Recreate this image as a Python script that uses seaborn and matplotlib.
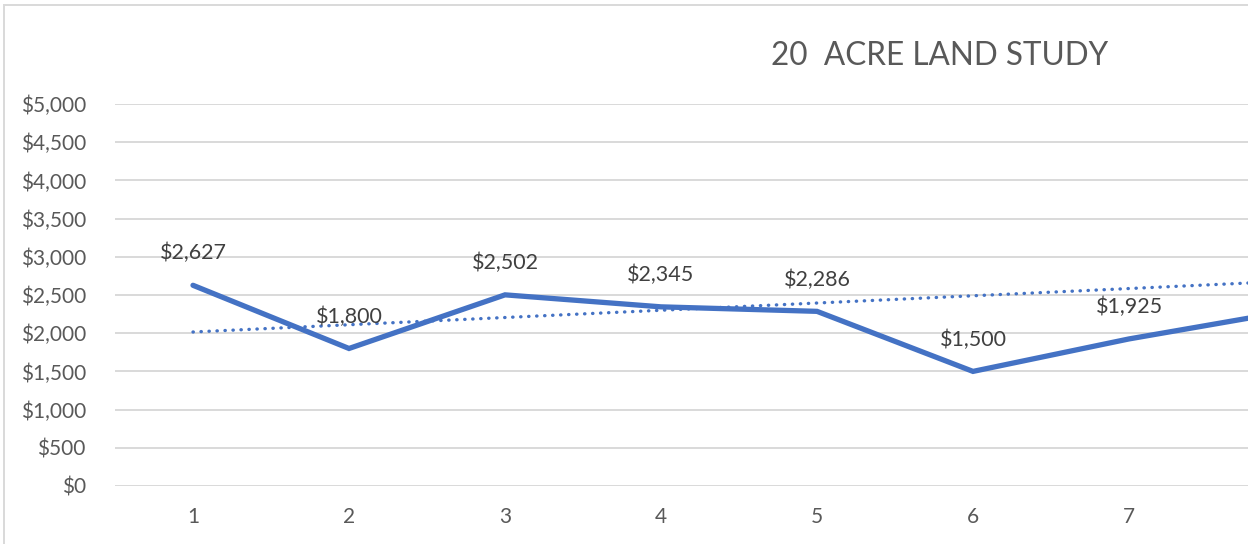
import seaborn as sns
import matplotlib.pyplot as plt
import pandas as pd
import numpy as np
from matplotlib.patches import Rectangle
from matplotlib.ticker import FuncFormatter

# values (8th point is cut off at the right edge)
periods = [1, 2, 3, 4, 5, 6, 7, 8]
prices = [2627, 1800, 2502, 2345, 2286, 1500, 1925, 2280]
# linear trendline as shown (fitted on the full series, partly hidden)
trend_intercept = 1921
trend_slope = 94.8
y_ticks = [0, 500, 1000, 1500, 2000, 2500, 3000, 3500, 4000, 4500, 5000]

sns.set_style("white")
plt.rcParams['font.family'] = ['Lato', 'DejaVu Sans']

df = pd.DataFrame({"period": periods, "price": prices})
trend_x = np.array([periods[0], periods[-1]])
trend = pd.DataFrame({"period": trend_x, "price": trend_intercept + trend_slope * trend_x})

fig = plt.figure(figsize=(12.48, 5.44), dpi=100)
ax = fig.add_axes([115 / 1248, 58 / 544, 1 - 115 / 1248, 382 / 544])

blue = "#4472C4"
grey_txt = "#595959"

sns.lineplot(data=trend, x="period", y="price", ax=ax, color=blue, lw=2.4,
             linestyle=(0, (0.1, 2.3)))
ax.lines[-1].set_dash_capstyle("round")
sns.lineplot(data=df, x="period", y="price", ax=ax, color=blue, lw=3.8,
             solid_joinstyle="miter")

for x, y in zip(periods, prices):
    ax.annotate(f"${y:,}", (x, y), xytext=(0, 23), textcoords="offset points",
                ha="center", va="center", fontsize=15.5, color="#404040")

ax.set_xlim(0.5, 1 + (1248 - 193) / 156)
ax.set_ylim(0, 5000)
ax.set_yticks(y_ticks)
ax.set_xticks(periods[:7])
ax.yaxis.set_major_formatter(FuncFormatter(lambda v, p: f"${int(v):,}"))
ax.grid(axis="y", color="#d9d9d9", lw=1.4)
ax.grid(axis="x", visible=False)
ax.set_axisbelow(True)
for s in ax.spines.values():
    s.set_visible(False)
ax.tick_params(axis="y", length=0, pad=21, labelsize=15, labelcolor=grey_txt)
ax.tick_params(axis="x", length=0, pad=15, labelsize=15, labelcolor=grey_txt)
ax.set_xlabel("")
ax.set_ylabel("")
ax.patch.set_alpha(0)

fig.text(940 / 1248, 1 - 56 / 544, "20  ACRE LAND STUDY", ha="center", va="center",
         fontsize=22.7, color=grey_txt)

fig.patches.append(Rectangle((4 / 1248, -0.1), 1.2, 1 - 5 / 544 + 0.1,
                             transform=fig.transFigure, fill=False,
                             edgecolor="#d9d9d9", lw=1.4))

plt.savefig("out.png", dpi=100)
